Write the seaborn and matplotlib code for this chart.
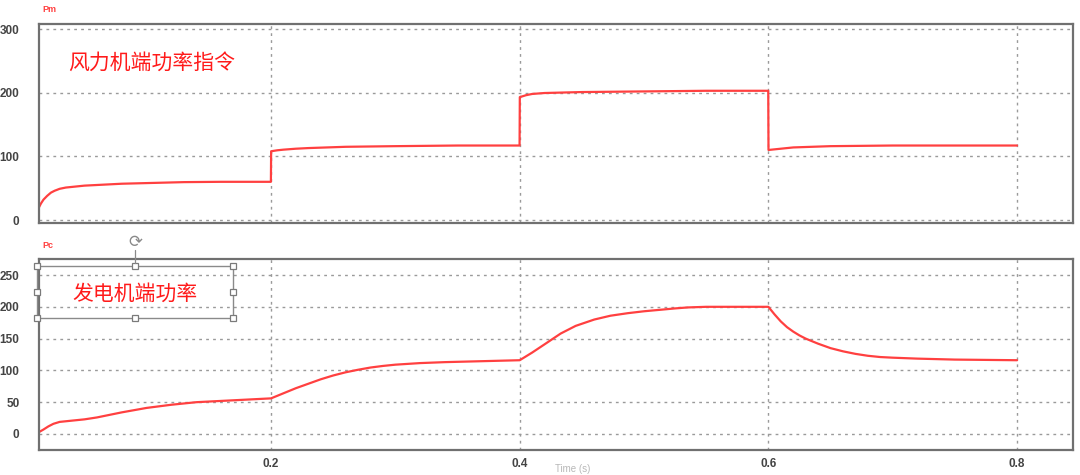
import numpy as np
import pandas as pd
import seaborn as sns
import matplotlib
matplotlib.use("Agg")
import matplotlib.pyplot as plt
from matplotlib.patches import Rectangle

# ---- data ----
pm_t = [0.0134, 0.015, 0.017, 0.020, 0.023, 0.026, 0.030, 0.035, 0.040, 0.050, 0.060, 0.080,
        0.100, 0.130, 0.160, 0.1999,
        0.2001, 0.205, 0.210, 0.220, 0.230, 0.260, 0.300, 0.350, 0.3999,
        0.4001, 0.405, 0.410, 0.420, 0.450, 0.500, 0.550, 0.5999,
        0.6001, 0.605, 0.610, 0.620, 0.650, 0.700, 0.800]
pm_v = [20, 26, 32, 38, 43, 46, 49, 51, 52, 54, 55, 57,
        58, 59.5, 60, 60,
        108, 109.5, 110.5, 112, 113, 115, 116, 117, 117,
        193, 196, 198, 199.5, 201, 202, 203, 203,
        110, 111, 112, 114, 116, 117, 117]

pc_t = [0.0134, 0.017, 0.021, 0.025, 0.030, 0.035, 0.040, 0.050, 0.060, 0.080, 0.100,
        0.120, 0.140, 0.160, 0.180, 0.200,
        0.210, 0.220, 0.230, 0.240, 0.250, 0.260, 0.270, 0.280, 0.290, 0.300,
        0.320, 0.340, 0.370, 0.400,
        0.405, 0.410, 0.420, 0.433, 0.445, 0.460, 0.473, 0.487, 0.500, 0.514,
        0.525, 0.535, 0.550, 0.600,
        0.605, 0.610, 0.615, 0.620, 0.625, 0.630, 0.640, 0.650, 0.660, 0.670,
        0.680, 0.690, 0.700, 0.720, 0.750, 0.800]
pc_v = [3, 7, 12, 16, 19, 20, 21, 23, 26, 34, 41,
        46, 50, 52, 54, 56,
        64, 72, 79, 86, 92, 97, 101, 104.5, 107, 109,
        111.5, 113, 114.5, 116,
        122, 128, 141, 158, 170, 180, 186, 190, 193, 195.5,
        197.5, 199, 200, 200,
        188, 177, 168, 161, 155, 150, 142, 135, 130, 126,
        123, 121, 120, 118.5, 117, 116]

x_ticks = [0.2, 0.4, 0.6, 0.8]
pm_yticks = [0, 100, 200, 300]
pc_yticks = [0, 50, 100, 150, 200, 250]

title_top = "风力机端功率指令"
title_bot = "发电机端功率"

# ---- style ----
sns.set_style("white")
plt.rcParams['font.family'] = ['Liberation Sans', 'Noto Sans CJK SC', 'DejaVu Sans']

W, H = 1080, 475
fig = plt.figure(figsize=(W / 100, H / 100), dpi=100)
fig.patch.set_facecolor("white")

def px_axes(x0, y0, x1, y1):
    return fig.add_axes([x0 / W, 1 - y1 / H, (x1 - x0) / W, (y1 - y0) / H])

ax1 = px_axes(39, 24, 1073, 223)
ax2 = px_axes(39, 259, 1073, 450)

line_col = "#ff4040"
grid_col = "#9a9a9a"
frame_col = "#707070"

df_pm = pd.DataFrame({"t": pm_t, "v": pm_v})
df_pc = pd.DataFrame({"t": pc_t, "v": pc_v})
sns.lineplot(data=df_pm, x="t", y="v", ax=ax1, color=line_col, lw=1.6, estimator=None, sort=False)
sns.lineplot(data=df_pc, x="t", y="v", ax=ax2, color=line_col, lw=1.6, estimator=None, sort=False)

for ax, yt, ylim in [(ax1, pm_yticks, (-4.7, 307.9)), (ax2, pc_yticks, (-25.2, 275.2))]:
    ax.set_xlim(0.0134, 0.845)
    ax.set_ylim(*ylim)
    ax.set_xticks(x_ticks)
    ax.set_yticks(yt)
    ax.set_xlabel("")
    ax.set_ylabel("")
    ax.grid(True, color=grid_col, linestyle=(0, (2, 3)), linewidth=1.0)
    ax.tick_params(axis="both", length=0, labelsize=8.5, labelcolor="#444444")
    ax.tick_params(axis="y", pad=14)
    ax.tick_params(axis="x", pad=6)
    for s in ax.spines.values():
        s.set_visible(True)
        s.set_color(frame_col)
        s.set_linewidth(1.6)
    for lab in ax.get_yticklabels() + ax.get_xticklabels():
        lab.set_fontweight("bold")

ax1.set_xticklabels([])

# small red variable names
fig.text(42 / W, 1 - 10 / H, "Pm", color="#ff4040", fontsize=6.5, fontweight="bold", va="center", ha="left")
fig.text(42 / W, 1 - 245 / H, "Pc", color="#ff4040", fontsize=6.5, fontweight="bold", va="center", ha="left")

# Chinese annotations
fig.text(68 / W, 1 - 63 / H, title_top, color="#ff1a1a", fontsize=15,
         family=['Noto Sans CJK SC', 'DejaVu Sans'], va="center", ha="left")
fig.text(72 / W, 1 - 294 / H, title_bot, color="#ff1a1a", fontsize=15,
         family=['Noto Sans CJK SC', 'DejaVu Sans'], va="center", ha="left")

# selection box (as in the screenshot)
bx0, by0, bx1, by1 = 37, 266, 233, 318
fig.add_artist(Rectangle((bx0 / W, 1 - by1 / H), (bx1 - bx0) / W, (by1 - by0) / H,
                         transform=fig.transFigure, fill=False, edgecolor="#8a8a8a", lw=1.0))
hs = 6
for hx in [bx0, (bx0 + bx1) / 2, bx1]:
    for hy in [by0, (by0 + by1) / 2, by1]:
        if hx == (bx0 + bx1) / 2 and hy == (by0 + by1) / 2:
            continue
        fig.add_artist(Rectangle(((hx - hs / 2) / W, 1 - (hy + hs / 2) / H), hs / W, hs / H,
                                 transform=fig.transFigure, facecolor="white",
                                 edgecolor="#7a7a7a", lw=0.9))
mx = (bx0 + bx1) / 2
fig.add_artist(plt.Line2D([mx / W, mx / W], [1 - 250 / H, 1 - (by0 - hs / 2) / H],
                          transform=fig.transFigure, color="#8a8a8a", lw=0.9))
fig.text(mx / W, 1 - 242 / H, "⟳", color="#8a8a8a", fontsize=12, ha="center", va="center",
         family=['DejaVu Sans'])

# faint axis label at the very bottom
fig.text(555 / W, 1 - 469 / H, "Time (s)", color="#b8b8b8", fontsize=7, ha="left", va="center")

fig.savefig("out.png", dpi=100, facecolor="white")
